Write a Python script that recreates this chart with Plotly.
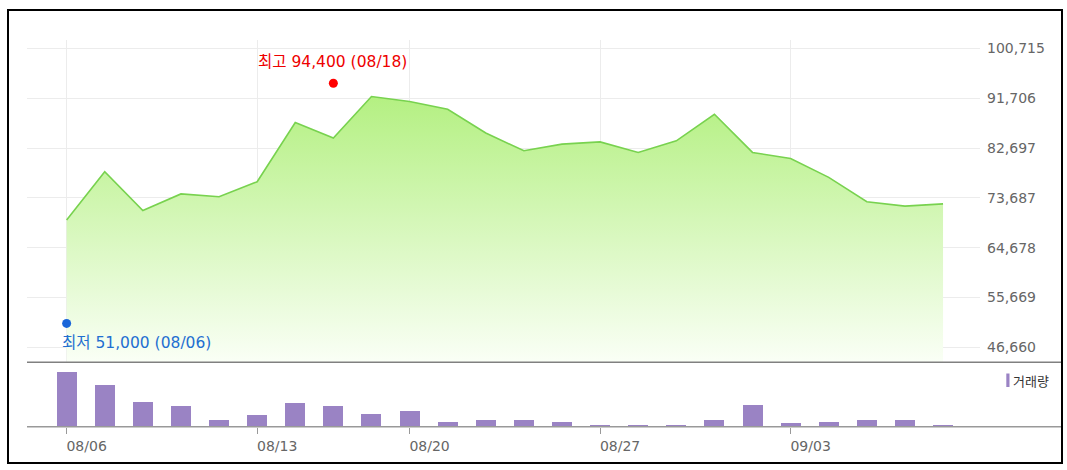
import plotly.graph_objects as go

# ---------------- data ----------------
dates = ["08/06", "08/07", "08/08", "08/09", "08/10",
         "08/13", "08/14", "08/16", "08/17",
         "08/20", "08/21", "08/22", "08/23", "08/24",
         "08/27", "08/28", "08/29", "08/30", "08/31",
         "09/03", "09/04", "09/05", "09/06", "09/07"]
close_prices = [69700, 78400, 71400, 74400, 73900,
                76600, 87300, 84500, 92000,
                91100, 89700, 85400, 82200, 83400,
                83800, 81900, 84000, 88800, 81900,
                80800, 77400, 73000, 72200, 72600]
volumes = [1270, 960, 570, 470, 150,
           260, 540, 470, 290,
           360, 110, 150, 150, 110,
           40, 40, 40, 150, 500,
           80, 110, 150, 150, 40]
x_tick_dates = ["08/06", "08/13", "08/20", "08/27", "09/03"]
y_tick_values = [46660, 55669, 64678, 73687, 82697, 91706, 100715]
y_tick_labels = ["46,660", "55,669", "64,678", "73,687", "82,697", "91,706", "100,715"]
high_date_pos = "08/16"
high_value = 94400
high_label = "최고 94,400 (08/18)"
low_date_pos = "08/06"
low_value = 51000
low_label = "최저 51,000 (08/06)"
volume_label = "거래량"

# ---------------- layout helpers ----------------
W, H = 1067, 470


def px(p):
    return p / W


def py(p):
    return 1 - p / H


X_DOMAIN = [px(27), px(980)]
X_RANGE = [-1.04, 23.97]

fig = go.Figure()

# price area
fig.add_trace(go.Scatter(
    x=dates, y=close_prices, mode="lines",
    line=dict(color="#78d24f", width=1.6),
    fill="tozeroy",
    fillgradient=dict(type="vertical",
                      colorscale=[[0, "rgb(250,255,246)"], [1, "rgb(180,240,130)"]],
                      start=44000, stop=92000),
    xaxis="x", yaxis="y", hoverinfo="x+y", showlegend=False,
))

# high / low markers
fig.add_trace(go.Scatter(
    x=[high_date_pos], y=[high_value], mode="markers",
    marker=dict(color="#ff0000", size=9), xaxis="x", yaxis="y", showlegend=False,
))
fig.add_trace(go.Scatter(
    x=[low_date_pos], y=[low_value], mode="markers",
    marker=dict(color="#1a66d9", size=9), xaxis="x", yaxis="y", showlegend=False,
))

# volume bars
fig.add_trace(go.Bar(
    x=dates, y=volumes, marker=dict(color="#9a83c4", line=dict(width=0)),
    width=0.525, xaxis="x2", yaxis="y2", showlegend=False,
))

axis_font = dict(family="DejaVu Sans", size=14, color="#666666")

fig.update_layout(
    width=W, height=H,
    margin=dict(l=0, r=0, t=0, b=0),
    paper_bgcolor="white", plot_bgcolor="white",
    template="none",
    bargap=0,
    xaxis=dict(type="category", domain=X_DOMAIN, range=X_RANGE, anchor="y",
               tickmode="array", tickvals=x_tick_dates, showticklabels=False,
               showgrid=True, gridcolor="#ececec", gridwidth=1, zeroline=False,
               showline=False, ticks=""),
    yaxis=dict(domain=[py(362.3), py(40)], range=[43975, 102215], anchor="x",
               side="right", tickmode="array", tickvals=y_tick_values, ticktext=y_tick_labels,
               showgrid=True, gridcolor="#ececec", gridwidth=1, zeroline=False,
               showline=False, ticks="", tickfont=axis_font, ticklabelstandoff=6),
    xaxis2=dict(type="category", domain=X_DOMAIN, range=X_RANGE, anchor="y2",
                tickmode="array", tickvals=x_tick_dates, showgrid=False, zeroline=False,
                showline=False, ticks="outside", ticklen=6, tickcolor="#999999", tickwidth=1,
                tickfont=axis_font, ticklabelshift=20),
    yaxis2=dict(domain=[py(426.7), py(362.3)], range=[0, 1500], anchor="x2",
                visible=False),
)

# labels for high / low
label_font = "DejaVu Sans, Noto Sans CJK KR"
fig.add_annotation(x=high_date_pos, y=high_value, xref="x", yref="y",
                   text=high_label, showarrow=False, xanchor="center", yanchor="bottom",
                   xshift=-1, yshift=10, font=dict(family=label_font, size=15.5, color="#ee0000"))
fig.add_annotation(x=low_date_pos, y=low_value, xref="x", yref="y",
                   text=low_label, showarrow=False, xanchor="left", yanchor="top",
                   xshift=-7, yshift=-9, font=dict(family=label_font, size=15.5,
                                                  color="#1f6fd1"))

# volume legend
fig.add_annotation(x=px(1011), y=py(380.5), xref="paper", yref="paper",
                   text=volume_label, showarrow=False, xanchor="left", yanchor="middle",
                   font=dict(family="Noto Sans CJK KR", size=13, color="#333333"))

shapes = [
    # legend swatch
    dict(type="rect", xref="paper", yref="paper", x0=px(1006.3), x1=px(1009.5),
         y0=py(387), y1=py(373.5), fillcolor="#9a83c4", line=dict(width=0)),
    # separator between price and volume
    dict(type="line", xref="paper", yref="paper", x0=px(27), x1=px(1062),
         y0=py(362.3), y1=py(362.3), line=dict(color="#808080", width=1.6)),
    # volume baseline
    dict(type="line", xref="paper", yref="paper", x0=px(27), x1=px(1062),
         y0=py(426.7), y1=py(426.7), line=dict(color="#999999", width=1.4)),
    # outer frame
    dict(type="rect", xref="paper", yref="paper", x0=px(8), x1=px(1062),
         y0=py(463), y1=py(10), line=dict(color="#000000", width=2)),
]
fig.update_layout(shapes=shapes)

fig.write_html(
    "out.html",
    config={"displayModeBar": False},
    post_script="document.body.style.margin='0';document.body.style.overflow='hidden';",
)
